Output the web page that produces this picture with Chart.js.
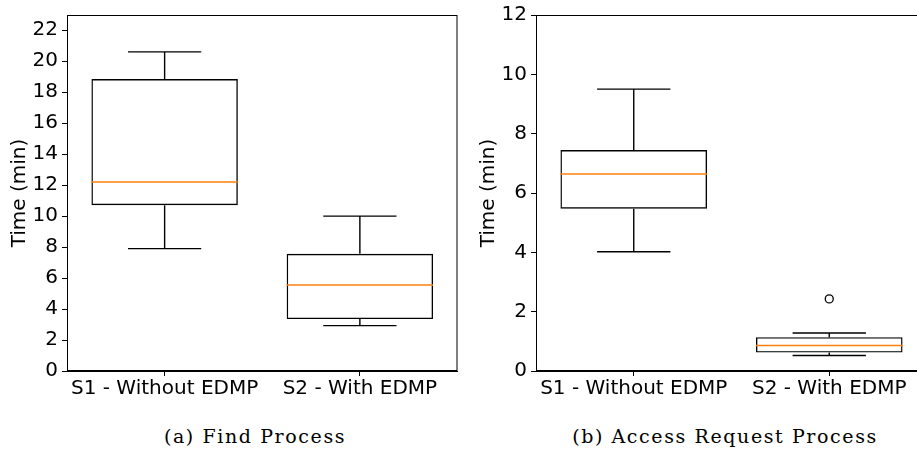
<!DOCTYPE html>
<html>
<head>
    <title></title>
    <script src="https://cdn.jsdelivr.net/npm/chart.js@4/dist/chart.umd.min.js"></script>
    <style>
        body { margin: 0; background: #fff; width: 917px; height: 453px; position: relative; overflow: hidden; }
        .holder { position: absolute; top: 0; }
        .caption { position: absolute; top: 425px; width: 400px; white-space: nowrap; font-family: "DejaVu Serif", serif; font-size: 19px; letter-spacing: 1.6px; color: #000; text-align: center; }
    </style>
</head>

<body>
    <div class="holder" style="left:0px"><canvas id="find" width="460" height="410"></canvas></div>
    <div class="holder" style="left:460px"><canvas id="access" width="467" height="410"></canvas></div>
    <div class="caption" style="left:55px">(a) Find Process</div>
    <div class="caption" style="left:525px">(b) Access Request Process</div>

    <script>
		var categories = ['S1 - Without EDMP', 'S2 - With EDMP'];

		// (a) Find Process
		var findMin = [7.9, 2.93];
		var findQ1 = [10.7, 3.35];
		var findMedian = [12.2, 5.55];
		var findQ3 = [18.85, 7.57];
		var findMax = [20.6, 10.0];
		var findOutliers = [null, null];
		var findTicks = [0, 2, 4, 6, 8, 10, 12, 14, 16, 18, 20, 22];

		// (b) Access Request Process
		var accessMin = [4.02, 0.52];
		var accessQ1 = [5.47, 0.62];
		var accessMedian = [6.64, 0.86];
		var accessQ3 = [7.45, 1.14];
		var accessMax = [9.5, 1.28];
		var accessOutliers = [null, 2.43];
		var accessTicks = [0, 2, 4, 6, 8, 10, 12];

		var font = "'DejaVu Sans', sans-serif";

		// whiskers, caps and median lines, drawn from the scales
		var boxPlugin = {
			id: 'boxExtras',
			afterDatasetsDraw: function(chart) {
				var st = chart.options.plugins.boxExtras;
				var x = chart.scales.x, y = chart.scales.y, ctx = chart.ctx;
				var bars = chart.getDatasetMeta(0).data;
				ctx.save();
				for (var i = 0; i < categories.length; i++) {
					var cx = x.getPixelForValue(i);
					var half = bars[i].width / 2;
					ctx.strokeStyle = '#000';
					ctx.lineWidth = 1.4;
					ctx.beginPath();
					ctx.moveTo(cx, y.getPixelForValue(st.q3[i]));
					ctx.lineTo(cx, y.getPixelForValue(st.max[i]));
					ctx.moveTo(cx - half / 2, y.getPixelForValue(st.max[i]));
					ctx.lineTo(cx + half / 2, y.getPixelForValue(st.max[i]));
					ctx.moveTo(cx, y.getPixelForValue(st.q1[i]));
					ctx.lineTo(cx, y.getPixelForValue(st.min[i]));
					ctx.moveTo(cx - half / 2, y.getPixelForValue(st.min[i]));
					ctx.lineTo(cx + half / 2, y.getPixelForValue(st.min[i]));
					ctx.stroke();
					ctx.strokeStyle = '#ff7f0e';
					ctx.lineWidth = 1.4;
					ctx.beginPath();
					ctx.moveTo(cx - half, y.getPixelForValue(st.median[i]));
					ctx.lineTo(cx + half, y.getPixelForValue(st.median[i]));
					ctx.stroke();
				}
				// full frame round the plot
				var a = chart.chartArea;
				ctx.strokeStyle = '#000';
				ctx.lineWidth = 1;
				ctx.strokeRect(a.left + 0.5, a.top + 0.5, a.right - a.left - 1, a.bottom - a.top - 1);
				ctx.restore();
			}
		};

		function makeBox(id, min, q1, median, q3, max, outliers, ticks, yMax, yWidth, titlePad, rightPad) {
			var boxes = [];
			for (var i = 0; i < categories.length; i++) boxes.push([q1[i], q3[i]]);
			var ctx = document.getElementById(id).getContext('2d');
			return new Chart(ctx, {
				data: {
					labels: categories,
					datasets: [{
						type: 'bar',
						data: boxes,
						backgroundColor: 'rgba(255,255,255,0)',
						borderColor: '#000',
						borderWidth: 1.4,
						borderSkipped: false,
						barPercentage: 0.75,
						categoryPercentage: 1
					}, {
						type: 'line',
						data: outliers,
						showLine: false,
						pointStyle: 'circle',
						pointRadius: 4,
						pointBorderWidth: 1.3,
						pointBorderColor: '#000',
						pointBackgroundColor: 'rgba(255,255,255,0)'
					}]
				},
				options: {
					responsive: false,
					animation: false,
					layout: { autoPadding: false, padding: { top: 15, right: rightPad, left: 0, bottom: 0 } },
					plugins: {
						legend: { display: false },
						tooltip: { enabled: false },
						boxExtras: { min: min, q1: q1, median: median, q3: q3, max: max }
					},
					scales: {
						x: {
							type: 'category',
							offset: true,
							grid: { display: true, drawOnChartArea: false, offset: false, tickLength: 5, color: '#000', lineWidth: 1 },
							border: { display: true, color: '#000', width: 1 },
							ticks: { color: '#000', padding: 1, maxRotation: 0, font: { family: font, size: 20 } },
							afterFit: function(s) { s.height = 39; s.paddingLeft = 0; s.paddingRight = 0; }
						},
						y: {
							min: 0,
							max: yMax,
							afterBuildTicks: function(s) { s.ticks = ticks.map(function(v) { return { value: v }; }); },
							grid: { display: true, drawOnChartArea: false, tickLength: 5, color: '#000', lineWidth: 1 },
							border: { display: true, color: '#000', width: 1 },
							ticks: { color: '#000', padding: 4, font: { family: font, size: 20 } },
							title: { display: true, text: 'Time (min)', color: '#000', padding: { top: titlePad, bottom: 0 }, font: { family: font, size: 20 } },
							afterFit: function(s) { s.width = yWidth; s.paddingTop = 0; s.paddingBottom = 0; }
						}
					}
				},
				plugins: [boxPlugin]
			});
		}

		window.onload = function() {
			makeBox('find', findMin, findQ1, findMedian, findQ3, findMax, findOutliers, findTicks, 22.98, 67, 8, 2.5);
			makeBox('access', accessMin, accessQ1, accessMedian, accessQ3, accessMax, accessOutliers, accessTicks, 12, 76, 17, 0);
		};
    </script>
</body>
</html>
